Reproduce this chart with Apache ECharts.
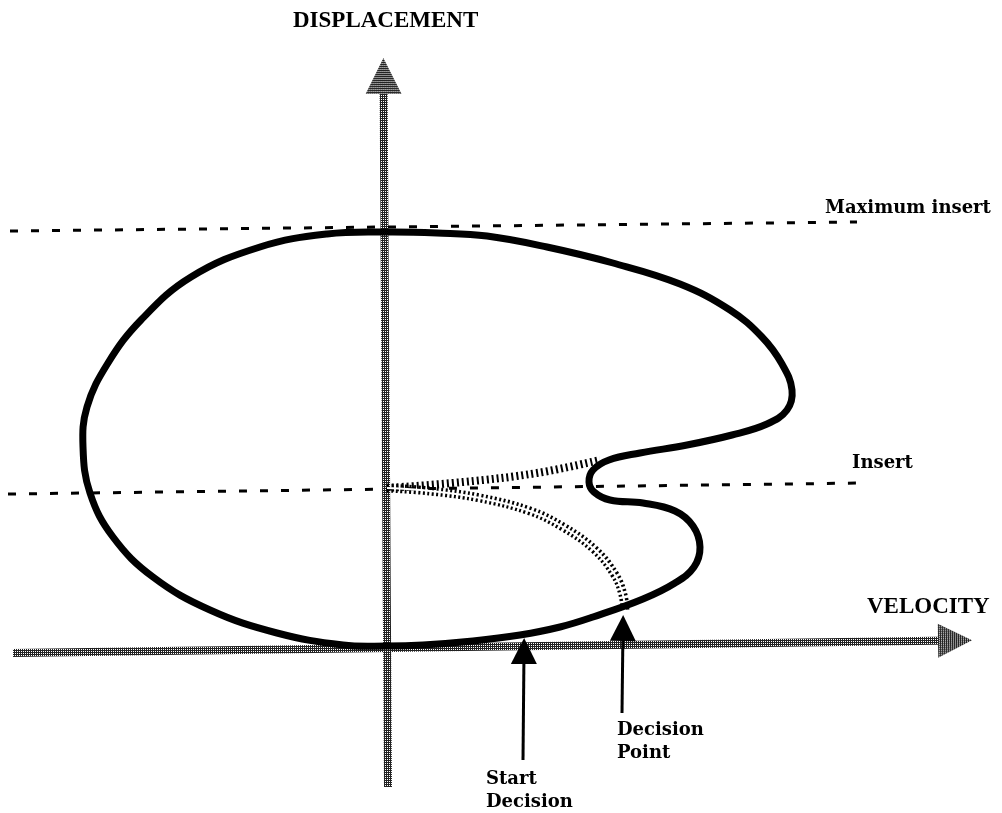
<!DOCTYPE html>
<html>
<head>
<meta charset="UTF-8">
<title>Displacement / Velocity</title>
<script src="https://cdn.jsdelivr.net/npm/echarts@6/dist/echarts.min.js"></script>
</head>
<body style="margin:0;background:#fff">
<div id="main" style="width:1002px;height:813px;"></div>
<script>
// phase plane: velocity to the right, displacement up, origin where the two axes cross
// closed loop, read clockwise from the top
var cyclePath = [
    [0,415],[50,414],[100,411],[160,400],[226,384],[293,363],[343,337],[375,310],
    [395,283],[405,257],[400,237],[380,223],[345,212],[300,202],[253,194],[222,187],
    [206,177],[202,165],[207,155],[223,147],[256,144],[288,136],[306,121],[313,100],
    [307,80],[288,64],[256,48],[206,30],[173,20],[133,12],[86,6],[36,2],[0,1],
    [-44,2],[-110,14],[-177,37],[-234,70],[-274,110],[-297,154],[-304,200],[-300,240],
    [-279,284],[-246,327],[-196,370],[-127,400],[-60,413]
];
var maxInsertLine = [[-377,416],[470,425]];
var insertLine = [[-379,153],[476,164]];
var velocityAxis = [[-374,-6],[568,6.5]];
var displacementAxis = [[1,-140],[-3.5,571]];
var upperHatch = [[0,159],[76,165],[150,174],[213,187]];
var lowerHatch = [[0,159],[43,156],[93,149],[143,136],[176,120],[208,97],[228,72],[236,52],[238,35]];
var startDecisionArrow = [[136,-113],[137,-4]];
var decisionPointArrow = [[235,-66],[236,19]];

// the grey screen-tone used on the two axes
function screenTone() {
    var c = document.createElement('canvas');
    c.width = 4; c.height = 4;
    var ctx = c.getContext('2d');
    ctx.fillStyle = '#222';
    ctx.fillRect(0, 0, 4, 4);
    ctx.fillStyle = '#fff';
    ctx.fillRect(1, 1, 1, 1); ctx.fillRect(3, 3, 1, 1);
    ctx.fillRect(1, 3, 1, 1); ctx.fillRect(3, 1, 1, 1);
    return c;
}
var tone = {image: screenTone(), repeat: 'repeat'};

// smooth curve through the points, drawn with the chart's own coordinates
function curve(points, closed, style) {
    return {
        type: 'custom', data: [[0, 0]], silent: true,
        renderItem: function (params, api) {
            return {
                type: closed ? 'polygon' : 'polyline',
                shape: {points: points.map(function (p) { return api.coord(p); }), smooth: 0.4},
                style: style
            };
        }
    };
}

var serif = 'bold 18px "DejaVu Serif"';
var loop = curve(cyclePath, true, {fill: 'none', stroke: '#000', lineWidth: 7});
loop.z = 5;
var upper = curve(upperHatch, false, {fill: 'none', stroke: '#000', lineWidth: 8, lineDash: [2, 3]});
upper.z = 3;
var lower = curve(lowerHatch, false, {fill: 'none', stroke: '#000', lineWidth: 9, lineDash: [2, 2.5]});
lower.z = 3;
var lowerGap = curve(lowerHatch, false, {fill: 'none', stroke: '#fff', lineWidth: 2});
lowerGap.z = 4;

var myChart = echarts.init(document.getElementById('main'));
myChart.setOption({
    animation: false,
    grid: {left: 0, right: 0, top: 0, bottom: 0},
    xAxis: {type: 'value', min: -387, max: 615, show: false},
    yAxis: {type: 'value', min: -166, max: 647, show: false},
    series: [
        {
            type: 'lines', coordinateSystem: 'cartesian2d', silent: true, z: 1,
            symbol: ['none', 'triangle'], symbolSize: [30, 34],
            lineStyle: {color: tone, width: 8, opacity: 1},
            data: [{coords: velocityAxis}]
        },
        {
            type: 'lines', coordinateSystem: 'cartesian2d', silent: true, z: 1,
            symbol: ['none', 'triangle'], symbolSize: [28, 36],
            lineStyle: {color: tone, width: 8, opacity: 1},
            data: [{coords: displacementAxis}]
        },
        {
            type: 'line', data: maxInsertLine, showSymbol: false, silent: true, z: 2,
            lineStyle: {color: '#000', width: 3, type: [8, 13]}
        },
        {
            type: 'line', data: insertLine, showSymbol: false, silent: true, z: 2,
            lineStyle: {color: '#000', width: 3, type: [8, 13]}
        },
        upper, lower, lowerGap, loop,
        {
            type: 'lines', coordinateSystem: 'cartesian2d', silent: true, z: 6,
            symbol: ['none', 'triangle'], symbolSize: [22, 26],
            lineStyle: {color: '#000', width: 3, opacity: 1},
            data: [{coords: startDecisionArrow}, {coords: decisionPointArrow}]
        }
    ],
    graphic: [
        {type: 'text', left: 293, top: 10, style: {text: 'DISPLACEMENT', font: 'bold 23px "Liberation Serif"', fill: '#000'}},
        {type: 'text', left: 867, top: 596, style: {text: 'VELOCITY', font: 'bold 23px "Liberation Serif"', fill: '#000'}},
        {type: 'text', left: 825, top: 199, style: {text: 'Maximum insert', font: serif, fill: '#000'}},
        {type: 'text', left: 852, top: 454, style: {text: 'Insert', font: serif, fill: '#000'}},
        {type: 'text', left: 617, top: 719, style: {text: 'Decision\nPoint', font: serif, lineHeight: 23, fill: '#000'}},
        {type: 'text', left: 486, top: 768, style: {text: 'Start\nDecision', font: serif, lineHeight: 23, fill: '#000'}}
    ]
});
</script>
</body>
</html>
